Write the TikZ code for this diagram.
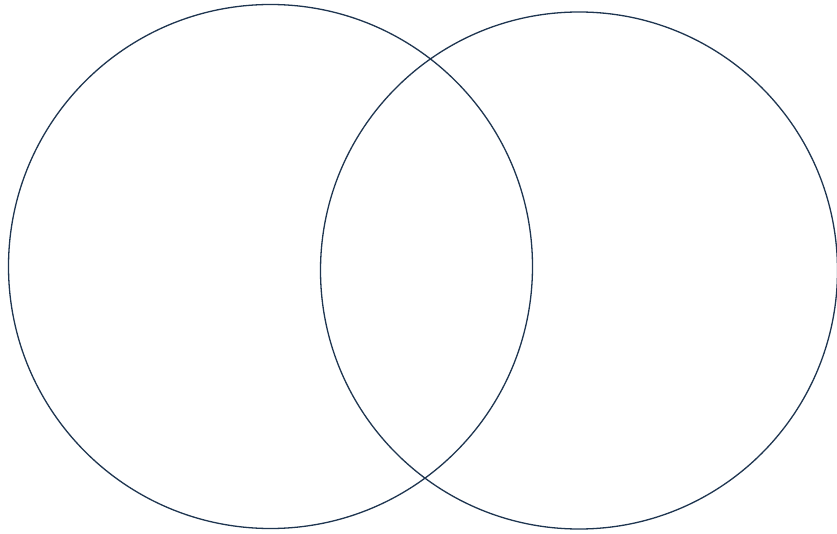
\documentclass[tikz,border=0pt]{standalone}
\usepackage{xcolor}
\definecolor{ringcol}{HTML}{1E3550}
\begin{document}
\begin{tikzpicture}[x=1pt,y=-1pt,
  ring/.style={draw=ringcol,line width=1.3pt}]
\useasboundingbox[fill=white] (0,0) rectangle (837,534);
\coordinate (cl) at (270.5,266.5);
\coordinate (cr) at (579,270.5);
\draw[ring] (cl) circle[radius=262];
\draw[ring] (cr) circle[radius=258.5];
\end{tikzpicture}
\end{document}
